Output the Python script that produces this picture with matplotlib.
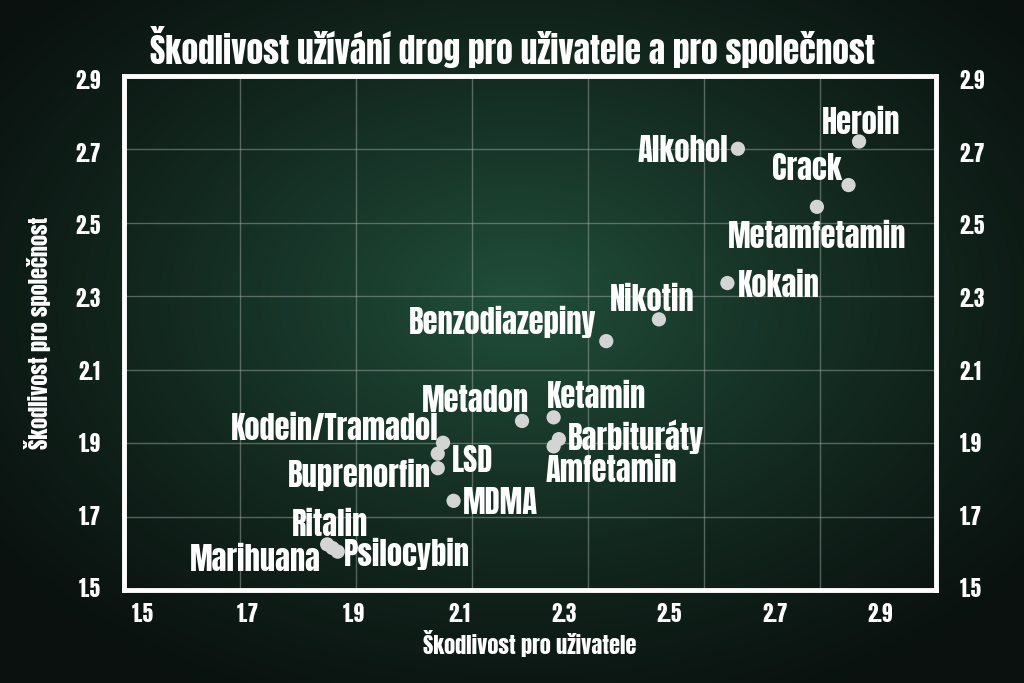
import numpy as np
import matplotlib
matplotlib.use("Agg")
import matplotlib.pyplot as plt

drogy = ["Heroin", "Alkohol", "Crack", "Metamfetamin", "Kokain", "Nikotin",
         "Benzodiazepiny", "Metadon", "Ketamin", "Barbituráty", "Amfetamin",
         "Kodein/Tramadol", "LSD", "Buprenorfin", "MDMA", "Ritalin",
         "Marihuana", "Psilocybin"]
pro_uzivatele = [2.86, 2.63, 2.84, 2.78, 2.61, 2.48, 2.38, 2.22, 2.28, 2.29,
                 2.28, 2.07, 2.06, 2.06, 2.09, 1.85, 1.86, 1.87]
pro_spolecnost = [2.73, 2.71, 2.61, 2.55, 2.34, 2.24, 2.18, 1.96, 1.97, 1.91,
                  1.89, 1.90, 1.87, 1.83, 1.74, 1.62, 1.61, 1.60]
ticks = [1.5, 1.7, 1.9, 2.1, 2.3, 2.5, 2.7, 2.9]

# label placement: (dx, dy) in pixels, horizontal alignment
popisky = {
    "Heroin": (2, 21, "center"),
    "Alkohol": (-10, 0, "right"),
    "Crack": (-7, 19, "right"),
    "Metamfetamin": (0, -28, "center"),
    "Kokain": (10, 0, "left"),
    "Nikotin": (-7, 22, "center"),
    "Benzodiazepiny": (-10, 21, "right"),
    "Metadon": (7, 22, "right"),
    "Ketamin": (-7, 23, "left"),
    "Barbituráty": (9, 4, "left"),
    "Amfetamin": (-8, -22, "left"),
    "Kodein/Tramadol": (-4, 16, "right"),
    "LSD": (14, -5, "left"),
    "Buprenorfin": (-7, -5, "right"),
    "MDMA": (9, 0, "left"),
    "Ritalin": (3, 22, "center"),
    "Marihuana": (-12, -9, "right"),
    "Psilocybin": (6, 0, "left"),
}

font = ["Anton", "DejaVu Sans"]
plt.rcParams["font.family"] = font

fig = plt.figure(figsize=(10.24, 6.83), dpi=100)

# background vignette
bg = fig.add_axes([0, 0, 1, 1], zorder=-10)
yy, xx = np.mgrid[0:683, 0:1024]
r = np.sqrt(((xx - 520) / 650) ** 2 + ((yy - 300) / 440) ** 2)
t = np.clip(1 - r, 0, 1) ** 1.2
inner = np.array([0.13, 0.31, 0.23])
outer = np.array([0.04, 0.07, 0.06])
img = outer + (inner - outer) * t[..., None]
bg.imshow(img, aspect="auto", extent=[0, 1, 0, 1])
bg.axis("off")

ax = fig.add_axes([0.121, 0.136, 0.793, 0.753])
ax.patch.set_alpha(0)
ax.set_xlim(1.464, 3.006)
ax.set_ylim(1.494, 2.911)

# decorative 7x7 grid
for i in range(1, 7):
    ax.plot([i / 7, i / 7], [0, 1], transform=ax.transAxes, color="#9aa8a0",
            lw=1, alpha=0.5, zorder=1)
    ax.plot([0, 1], [i / 7, i / 7], transform=ax.transAxes, color="#9aa8a0",
            lw=1, alpha=0.5, zorder=1)

for s in ax.spines.values():
    s.set_color("white")
    s.set_linewidth(3.5)

ax.scatter(pro_uzivatele, pro_spolecnost, s=105, color="#d4d4d4", zorder=3,
           edgecolors="none")

for name, x, y in zip(drogy, pro_uzivatele, pro_spolecnost):
    dx, dy, ha = popisky[name]
    ax.annotate(name, (x, y), xytext=(dx, dy), textcoords="offset pixels",
                ha=ha, va="center_baseline", color="white", fontsize=22,
                family=font, zorder=4)

ax.set_xticks(ticks)
ax.set_yticks(ticks)
ax.tick_params(length=0, colors="white", labelsize=15)
ax.tick_params(axis="x", pad=9)
ax.tick_params(axis="y", labelright=True, pad=17)

ax.set_xlabel("Škodlivost pro uživatele", color="white", fontsize=16,
              labelpad=4)
ax.set_ylabel("Škodlivost pro společnost", color="white", fontsize=16,
              labelpad=17)
fig.text(0.5, 0.931, "Škodlivost užívání drog pro uživatele a pro společnost",
         color="white", fontsize=24, ha="center", va="center")

fig.savefig("out.png", dpi=100)
